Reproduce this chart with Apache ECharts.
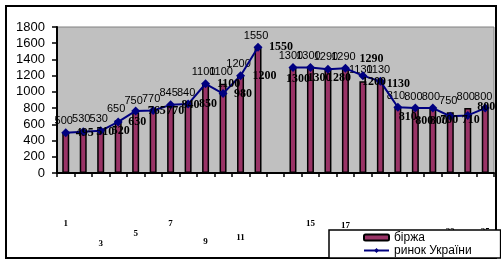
<!DOCTYPE html>
<html><head><meta charset="utf-8">
<script src="https://cdn.jsdelivr.net/npm/echarts/dist/echarts.min.js"></script>
<style>html,body{margin:0;padding:0;background:#fff}#c{width:501px;height:263px}</style>
</head><body><div id="c"></div>
<script>
// ---- data ----
const categories = ['1','2','3','4','5','6','7','8','9','10','11','12','','14','15','16','17','18','19','20','21','22','23','24','25'];
const birzha = [500,530,530,650,750,770,845,840,1100,1100,1200,1550,null,1300,1300,1290,1290,1130,1130,810,800,800,750,800,800];
const rynok  = [495,510,520,630,765,770,840,850,1100,980,1200,1550,null,1300,1300,1280,1290,1200,1130,810,800,800,700,710,800];
const seriesNames = ['біржа','ринок України'];
const yMin = 0, yMax = 1800, yStep = 200;

// ---- style helpers (label placement only) ----
const lineLabelShift = [[19,0],[22,0],[20,0],[19,0],[21,0],[22,0],[20,0],[20,0],[23,0],[20,0],[24,0],[23,0],[0,0],
  [5,11],[9,10],[11,9],[26,-9],[11,6],[18,3],[10,10],[9,13],[6,13],[-1,4],[3,4],[1,-1]];
const xLabelDrop = [0,0,20,0,10,0,0,0,18,0,14,0,0,0,0,0,2,0,10,0,10,0,8,0,8];

const rich = {};
xLabelDrop.forEach((d,i)=>{ rich['d'+i] = {padding:[d,0,0,0], fontSize:9, fontWeight:'bold', fontFamily:'Liberation Serif', color:'#000'}; });

const chart = echarts.init(document.getElementById('c'), null, {renderer:'canvas'});
chart.setOption({
  animation:false,
  backgroundColor:'#fff',
  graphic:[{type:'rect', z:0, shape:{x:6,y:6,width:490,height:252}, style:{fill:'none', stroke:'#000', lineWidth:2}}],
  grid:{left:57, right:7, top:27, bottom:90, show:true, backgroundColor:'#c0c0c0', borderColor:'#808080', borderWidth:1},
  legend:{
    orient:'vertical', left:329, top:230, z:20,
    padding:[1,29,1,34], itemGap:0, itemWidth:25, itemHeight:6,
    backgroundColor:'#fff', borderColor:'#000', borderWidth:1.5,
    textStyle:{fontSize:12, color:'#000', fontFamily:'Liberation Sans', lineHeight:13},
    data:seriesNames
  },
  xAxis:{
    type:'category', data:categories, boundaryGap:true,
    axisLine:{lineStyle:{color:'#000', width:2}},
    axisTick:{show:true, interval:0, length:4, lineStyle:{color:'#000', width:1.5}},
    axisLabel:{interval:1, margin:46, formatter:(v,i)=>'{d'+i+'|'+v+'}', rich:rich},
    splitLine:{show:false}
  },
  yAxis:{
    type:'value', min:yMin, max:yMax, interval:yStep,
    axisLine:{show:true, lineStyle:{color:'#000', width:2}},
    axisTick:{show:true, length:5, lineStyle:{color:'#000', width:1.5}},
    axisLabel:{fontSize:13, color:'#000', fontFamily:'Liberation Sans', margin:12, formatter:v=>String(v)},
    splitLine:{show:false}
  },
  series:[
    {
      name:seriesNames[0], type:'bar', data:birzha, barWidth:7,
      itemStyle:{color:'#993366', borderColor:'#000', borderWidth:1.5},
      label:{show:true, position:'top', distance:6, offset:[-2,0], fontSize:11, color:'#000', fontFamily:'Liberation Sans'}
    },
    {
      name:seriesNames[1], type:'line', connectNulls:false, z:5,
      data:rynok.map((v,i)=>({value:v, label:{offset:lineLabelShift[i]}})),
      symbol:'diamond', symbolSize:9,
      lineStyle:{color:'#000080', width:2}, itemStyle:{color:'#000080'},
      label:{show:true, position:'inside', fontSize:12, fontWeight:'bold', color:'#000', fontFamily:'Liberation Serif'}
    }
  ]
});
</script></body></html>
